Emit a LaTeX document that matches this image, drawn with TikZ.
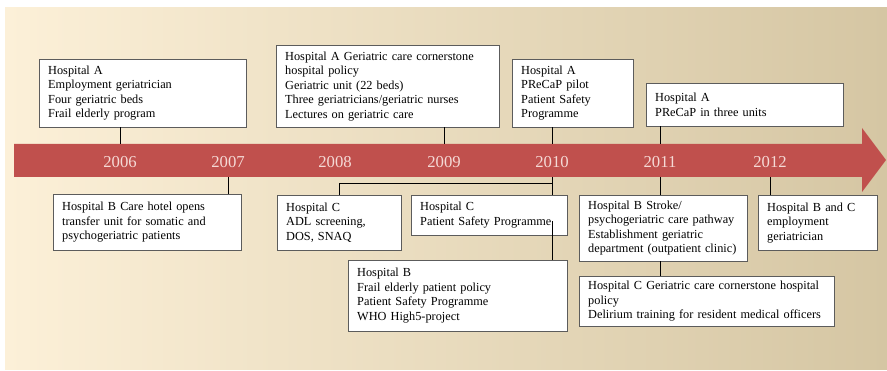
\documentclass[tikz,border=0pt]{standalone}
\usepackage{fontspec}
\setmainfont{Liberation Serif}
\usepackage{tikz}

\definecolor{cream}{HTML}{FCF0D8}
\definecolor{sand}{HTML}{D5C6A3}
\definecolor{bandred}{HTML}{C0504D}
\definecolor{yearpink}{HTML}{F5DAD6}
\definecolor{boxline}{HTML}{5C5C5C}

\begin{document}
\begin{tikzpicture}[x=1pt, y=-1pt,
  event/.style={rectangle, draw=boxline, fill=white, anchor=north west, align=left,
    inner xsep=9pt, inner ysep=0pt, font=\fontsize{12.3}{14.5}\selectfont},
  year/.style={text=yearpink, font=\fontsize{16.7}{20}\selectfont},
  link/.style={black, line width=0.8pt}]

\useasboundingbox (0,0) rectangle (887,371);
\shade[left color=cream, middle color=cream!85!sand, right color=sand] (5,8) rectangle (887,370);

% the time arrow
\fill[bandred] (14,144) -- (862,144) -- (862,128) -- (886,160) -- (862,192) -- (862,177) -- (14,177) -- cycle;
\coordinate (bandtop) at (14,144);
\coordinate (bandbot) at (14,177);

\node (y2006) at (120,162) [year] {2006};
\node (y2007) at (228,162) [year] {2007};
\node (y2008) at (335,162) [year] {2008};
\node (y2009) at (444,162) [year] {2009};
\node (y2010) at (552,162) [year] {2010};
\node (y2011) at (660,162) [year] {2011};
\node (y2012) at (770,162) [year] {2012};

% above the arrow
\node (a06) at (39,59) [event, text width=189pt, minimum height=68pt]
  {Hospital A\\Employment geriatrician\\Four geriatric beds\\Frail elderly program};
\node (a09) at (276,45) [event, text width=205pt, minimum height=82pt]
  {Hospital A Geriatric care cornerstone\\hospital policy\\Geriatric unit (22 beds)\\Three geriatricians/geriatric nurses\\Lectures on geriatric care};
\node (a10) at (512,59) [event, text width=103pt, minimum height=68pt]
  {Hospital A\\PReCaP pilot\\Patient Safety\\Programme};
\node (a11) at (646,83) [event, text width=179pt, minimum height=43pt]
  {Hospital A\\PReCaP in three units};

\draw[link] (a06.south -| y2006) -- (bandtop -| y2006);
\draw[link] (a09.south -| y2009) -- (bandtop -| y2009);
\draw[link] (a10.south -| y2010) -- (bandtop -| y2010);
\draw[link] (a11.south -| y2011) -- (bandtop -| y2011);

% below the arrow
\node (b07) at (53,194) [event, text width=170pt, minimum height=56pt]
  {Hospital B Care hotel opens\\transfer unit for somatic and\\psychogeriatric patients};
\node (c08) at (277,195) [event, text width=106pt, minimum height=55pt]
  {Hospital C\\ADL screening,\\DOS, SNAQ};
\node (c10) at (411,195) [event, text width=138pt, minimum height=40pt]
  {Hospital C\\Patient Safety Programme};
\node (b10) at (348,260) [event, text width=201pt, minimum height=71pt]
  {Hospital B\\Frail elderly patient policy\\Patient Safety Programme\\WHO High5-project};
\node (b11) at (579,195) [event, text width=150pt, minimum height=66pt]
  {Hospital B Stroke/\\psychogeriatric care pathway\\Establishment geriatric\\department (outpatient clinic)};
\node (c11) at (579,276) [event, text width=237pt, minimum height=50pt]
  {Hospital C Geriatric care cornerstone hospital\\policy\\Delirium training for resident medical officers};
\node (bc12) at (758,195) [event, text width=101pt, minimum height=55pt]
  {Hospital B and C\\employment\\geriatrician};

\coordinate (fork10) at (552,183);
\coordinate (via10) at (552,221);

\draw[link] (bandbot -| y2007) -- (b07.north -| y2007);
\draw[link] (bandbot -| y2010) -- (c10.north -| y2010);
\draw[link] (c08.north) |- (fork10);
\draw[link] (via10) -- (b10.north -| via10);
\draw[link] (bandbot -| y2011) -- (b11.north -| y2011);
\draw[link] (b11.south -| y2011) -- (c11.north -| y2011);
\draw[link] (bandbot -| y2012) -- (bc12.north -| y2012);
\end{tikzpicture}
\end{document}
